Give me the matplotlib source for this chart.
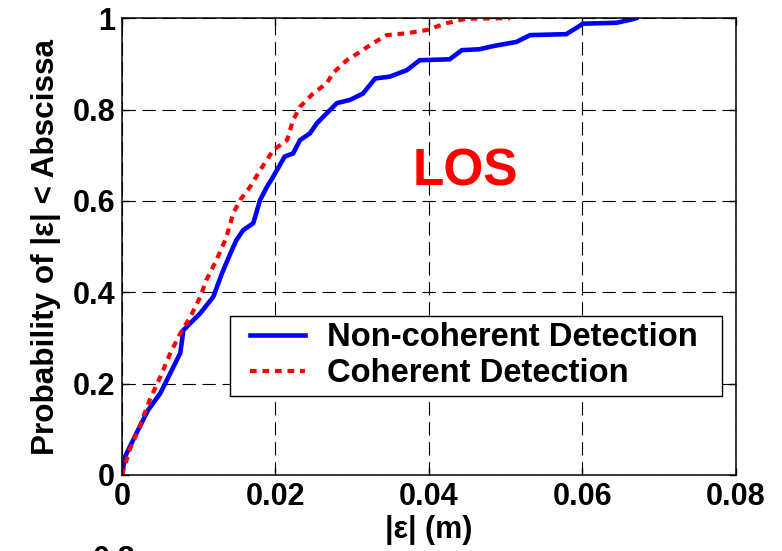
import numpy as np
import matplotlib
matplotlib.use("Agg")
import matplotlib.pyplot as plt
from matplotlib.lines import Line2D
from matplotlib.legend_handler import HandlerLine2D

# CDF of ranging error
noncoh_x = [0, 0.0004, 0.0019, 0.0034, 0.0050, 0.0063, 0.0076, 0.0080, 0.0102, 0.0119,
            0.0130, 0.0140, 0.0149, 0.0158, 0.0171, 0.0180, 0.0189, 0.0197, 0.0212, 0.0223,
            0.0232, 0.0245, 0.0254, 0.0267, 0.0280, 0.0297, 0.0314, 0.0330, 0.0349, 0.0371,
            0.0388, 0.0427, 0.0443, 0.0466, 0.0484, 0.0514, 0.0532, 0.0579, 0.0601, 0.0645,
            0.0666, 0.0670]
noncoh_y = [0, 0.040, 0.092, 0.142, 0.179, 0.223, 0.267, 0.317, 0.354, 0.390,
            0.440, 0.480, 0.514, 0.536, 0.551, 0.602, 0.631, 0.653, 0.697, 0.704,
            0.733, 0.748, 0.770, 0.792, 0.814, 0.821, 0.835, 0.868, 0.872, 0.886,
            0.908, 0.910, 0.930, 0.932, 0.939, 0.948, 0.963, 0.965, 0.988, 0.990,
            0.998, 1.0]

coh_x = [0, 0.0010, 0.0023, 0.0036, 0.0050, 0.0063, 0.0076, 0.0089, 0.0102, 0.0110,
         0.0123, 0.0136, 0.0145, 0.0154, 0.0167, 0.0180, 0.0197, 0.0215, 0.0223, 0.0232,
         0.0249, 0.0267, 0.0275, 0.0293, 0.0310, 0.0327, 0.0345, 0.0371, 0.0397, 0.0423,
         0.0449, 0.0506]
coh_y = [0, 0.055, 0.106, 0.164, 0.215, 0.267, 0.310, 0.346, 0.390, 0.427,
         0.470, 0.520, 0.573, 0.602, 0.631, 0.667, 0.711, 0.733, 0.777, 0.806,
         0.835, 0.858, 0.880, 0.908, 0.926, 0.945, 0.963, 0.967, 0.974, 0.989,
         0.999, 1.0]

x_ticks = [0, 0.02, 0.04, 0.06, 0.08]
x_ticklabels = ["0", "0.02", "0.04", "0.06", "0.08"]
y_ticks = [0, 0.2, 0.4, 0.6, 0.8, 1.0]
y_ticklabels = ["0", "0.2", "0.4", "0.6", "0.8", "1"]

plt.rcParams["font.family"] = ["Liberation Sans", "DejaVu Sans"]
plt.rcParams["font.weight"] = "bold"

fig = plt.figure(figsize=(7.82, 5.51), dpi=100, facecolor="white")
ax = fig.add_axes([0.156, 0.138, 0.785, 0.829])

ax.plot(noncoh_x, noncoh_y, color="#0000ff", lw=3.3, solid_joinstyle="miter",
        label="Non-coherent Detection")
ax.plot(coh_x, coh_y, color="#ff0000", lw=3.0, linestyle=(0, (1.6, 1.4)),
        label="Coherent Detection")

ax.set_xlim(0, 0.08)
ax.set_ylim(0, 1)
ax.set_xticks(x_ticks)
ax.set_xticklabels(x_ticklabels)
ax.set_yticks(y_ticks)
ax.set_yticklabels(y_ticklabels)
ax.tick_params(direction="in", top=True, right=True, length=5, width=1,
               labelsize=22, pad=5)
for lbl in ax.get_xticklabels() + ax.get_yticklabels():
    lbl.set_fontweight("bold")
for sp in ax.spines.values():
    sp.set_linewidth(1.1)

ax.grid(True, color="black", lw=0.8, linestyle=(0, (12, 6)))

ax.set_xlabel("|ε| (m)", fontsize=22, fontweight="bold", labelpad=2)
ax.set_ylabel("Probability of |ε| < Abscissa", fontsize=22.7, fontweight="bold", labelpad=8)

ax.text(0.0448, 0.663, "LOS", color="#ff0000", fontsize=37, fontweight="bold",
        ha="center", va="center")

# xpad pushes the legend lines in from the frame without growing its height
leg = ax.legend(loc="lower left", bbox_to_anchor=(0.176, 0.173, 0.801, 0.0), mode="expand",
                borderaxespad=0, fancybox=False, edgecolor="black", framealpha=1,
                fontsize=23.6, handlelength=2.1, handletextpad=0.65, labelspacing=0.15,
                borderpad=0.2, handler_map={Line2D: HandlerLine2D(xpad=0.4)})
leg.get_frame().set_linewidth(1.0)
for t in leg.get_texts():
    t.set_fontweight("bold")

# top of the next panel's tick label, cut off by the page edge
fig.text(93 / 782, 1 - 545 / 551, "0.8", fontsize=22, fontweight="bold",
         ha="left", va="top")

fig.savefig("out.png", dpi=100, facecolor="white")
